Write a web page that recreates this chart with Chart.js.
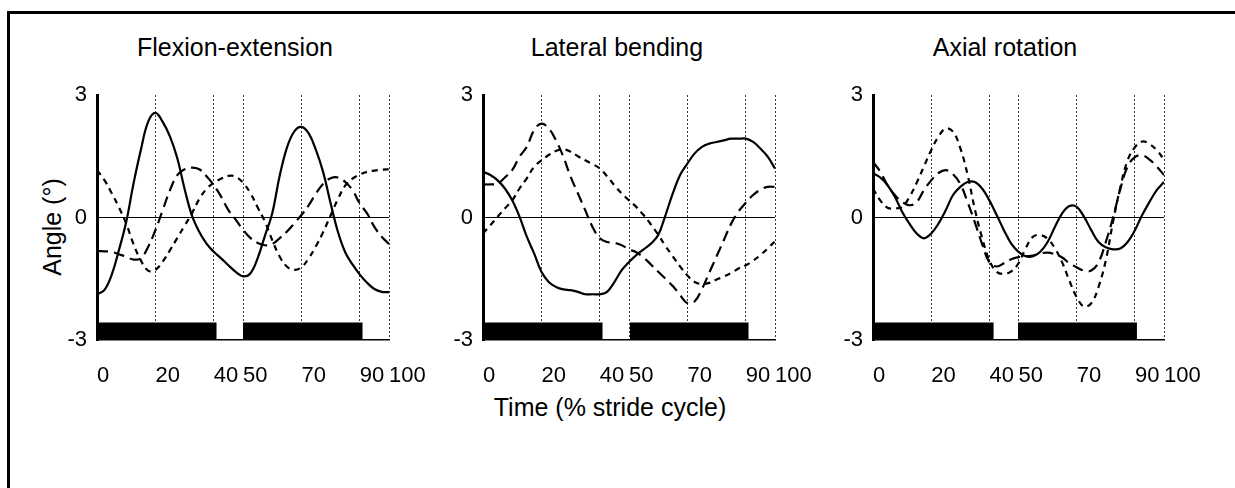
<!DOCTYPE html>
<html lang="en">

<head>
    <meta charset="UTF-8">
    <title>Spine angles over the stride cycle</title>
    <script src="https://cdn.jsdelivr.net/npm/chart.js"></script>
    <style>
        body {
            margin: 0;
            background: #fff;
            color: #000;
            font-family: "Liberation Sans", Arial, sans-serif;
        }

        .page {
            position: relative;
            width: 1235px;
            height: 488px;
            overflow: hidden;
        }

        .frame {
            position: absolute;
            left: 7px;
            top: 11px;
            width: 1260px;
            height: 500px;
            border-top: 3px solid #000;
            border-left: 3px solid #000;
        }

        .title {
            position: absolute;
            top: 35px;
            font-size: 25px;
            line-height: 25px;
            white-space: nowrap;
            transform: translateX(-50%);
        }

        .axis-title {
            position: absolute;
            font-size: 25px;
            line-height: 25px;
            white-space: nowrap;
        }

        canvas {
            position: absolute;
            top: 65px;
        }
    </style>
</head>

<body>
    <div class="page">
        <div class="frame"></div>
        <div class="title" style="left: 235px;">Flexion-extension</div>
        <div class="title" style="left: 617px;">Lateral bending</div>
        <div class="title" style="left: 1005px;">Axial rotation</div>
        <div class="axis-title" style="left: 52px; top: 227px; transform: translate(-50%, -50%) rotate(-90deg);">Angle (°)</div>
        <div class="axis-title" style="left: 610px; top: 395px; transform: translateX(-50%);">Time (% stride cycle)</div>
        <canvas id="flex" width="442" height="325" style="left: 27px;"></canvas>
        <canvas id="lat" width="442" height="325" style="left: 413px;"></canvas>
        <canvas id="axial" width="441" height="325" style="left: 803px;"></canvas>
    </div>
    <script>
        // % of stride cycle where each curve was sampled
        const pct = [0, 2.5, 5, 7.5, 10, 12.5, 15, 17.5, 20, 22.5, 25, 27.5, 30, 32.5, 35, 37.5, 40, 42.5, 45, 47.5,
            50, 52.5, 55, 57.5, 60, 62.5, 65, 67.5, 70, 72.5, 75, 77.5, 80, 82.5, 85, 87.5, 90, 92.5, 95, 97.5, 100];
        const xTicks = [0, 20, 40, 50, 70, 90, 100];
        const yTicks = [-3, 0, 3];

        // flexion-extension
        const flexSolid = [-1.88, -1.78, -1.41, -0.8, -0.11, 0.83, 1.65, 2.34, 2.56, 2.34, 1.98, 1.45, 0.7, 0.05, -0.35,
            -0.64, -0.84, -1.0, -1.17, -1.33, -1.44, -1.37, -1.0, -0.45, 0.1, 1.0, 1.7, 2.1, 2.22, 2.06,
            1.65, 1.1, 0.35, -0.35, -0.85, -1.15, -1.4, -1.6, -1.75, -1.82, -1.83];
        const flexLong = [-0.82, -0.83, -0.84, -0.9, -0.96, -1.03, -1.0, -0.72, -0.31, 0.18, 0.67, 1.04, 1.18, 1.22, 1.18,
            1.01, 0.79, 0.51, 0.18, -0.05, -0.3, -0.5, -0.62, -0.68, -0.65, -0.51, -0.35, -0.15, 0.06, 0.3,
            0.59, 0.83, 0.96, 0.98, 0.87, 0.67, 0.34, 0.1, -0.23, -0.47, -0.65];
        const flexShort = [1.16, 0.92, 0.6, 0.25, -0.15, -0.65, -1.05, -1.3, -1.28, -1.08, -0.8, -0.5, -0.2, 0.1, 0.45,
            0.7, 0.85, 0.95, 1.02, 1.0, 0.85, 0.6, 0.25, -0.1, -0.55, -0.95, -1.2, -1.28, -1.22, -1.0,
            -0.7, -0.35, 0.05, 0.45, 0.78, 0.95, 1.05, 1.12, 1.15, 1.17, 1.18];
        const flexStance = [[0, 41], [50, 91]];

        // lateral bending
        const latSolid = [1.12, 1.04, 0.91, 0.71, 0.42, 0.02, -0.47, -0.88, -1.33, -1.58, -1.7, -1.76, -1.78, -1.82, -1.88,
            -1.88, -1.88, -1.82, -1.58, -1.29, -1.09, -0.92, -0.78, -0.64, -0.43, 0.06, 0.59, 1.04, 1.32, 1.57,
            1.73, 1.81, 1.85, 1.89, 1.93, 1.93, 1.93, 1.85, 1.69, 1.49, 1.2];
        const latLong = [0.81, 0.81, 0.83, 0.98, 1.16, 1.49, 1.73, 2.14, 2.3, 2.18, 1.89, 1.49, 1.0, 0.59, 0.18,
            -0.23, -0.51, -0.6, -0.62, -0.68, -0.78, -0.85, -0.98, -1.15, -1.33, -1.5, -1.68, -1.9, -2.1, -2.05,
            -1.75, -1.35, -0.95, -0.55, -0.15, 0.15, 0.36, 0.55, 0.68, 0.75, 0.75];
        const latShort = [-0.39, -0.19, 0.02, 0.22, 0.42, 0.71, 0.96, 1.24, 1.4, 1.53, 1.63, 1.67, 1.61, 1.5, 1.4,
            1.31, 1.2, 1.01, 0.79, 0.59, 0.42, 0.26, 0.06, -0.17, -0.42, -0.7, -0.95, -1.2, -1.42, -1.58,
            -1.63, -1.6, -1.52, -1.44, -1.36, -1.25, -1.17, -1.06, -0.92, -0.76, -0.58];
        const latStance = [[0, 41], [50.3, 91]];

        // axial rotation
        const axSolid = [1.08, 0.98, 0.79, 0.51, 0.14, -0.15, -0.39, -0.51, -0.39, -0.15, 0.18, 0.55, 0.75, 0.87, 0.87,
            0.71, 0.42, 0.06, -0.31, -0.64, -0.84, -0.95, -0.95, -0.84, -0.6, -0.23, 0.1, 0.28, 0.26, 0.02,
            -0.31, -0.6, -0.73, -0.78, -0.76, -0.6, -0.31, 0.06, 0.38, 0.67, 0.87];
        const axLong = [1.36, 1.12, 0.79, 0.55, 0.38, 0.3, 0.38, 0.67, 0.91, 1.09, 1.16, 1.06, 0.82, 0.38, -0.12,
            -0.65, -1.1, -1.2, -1.12, -1.02, -0.97, -0.95, -0.93, -0.88, -0.86, -0.9, -0.98, -1.12, -1.22, -1.3,
            -1.3, -1.1, -0.6, 0.0, 0.7, 1.25, 1.48, 1.52, 1.42, 1.25, 1.04];
        const axShort = [0.71, 0.42, 0.24, 0.22, 0.26, 0.5, 0.85, 1.25, 1.65, 1.98, 2.18, 2.1, 1.7, 1.05, 0.2,
            -0.5, -1.05, -1.33, -1.38, -1.32, -1.12, -0.75, -0.47, -0.43, -0.52, -0.75, -1.1, -1.55, -1.95, -2.18,
            -2.1, -1.7, -1.05, -0.1, 0.74, 1.4, 1.72, 1.86, 1.8, 1.65, 1.42];
        const axStance = [[0, 41.5], [49.8, 90.7]];

        const stanceTop = -2.57;
        const tickFont = { family: '"Liberation Sans", Arial, sans-serif', size: 22 };

        function curve(vals, dash) {
            return {
                data: vals.map((v, i) => ({ x: pct[i], y: v })),
                borderColor: '#000',
                borderWidth: 2.2,
                borderDash: dash,
                pointRadius: 0,
                fill: false,
                tension: 0.4
            };
        }

        function stanceBar(range) {
            return {
                data: [{ x: range[0], y: stanceTop }, { x: range[1], y: stanceTop }],
                borderWidth: 0,
                borderColor: '#000',
                backgroundColor: '#000',
                pointRadius: 0,
                tension: 0,
                fill: { value: -3 }
            };
        }

        function panel(id, solid, longDash, shortDash, stance) {
            const datasets = stance.map(stanceBar);
            datasets.push(curve(shortDash, [6, 5]), curve(longDash, [11, 6]), curve(solid, []));
            new Chart(document.getElementById(id), {
                type: 'line',
                data: { datasets: datasets },
                options: {
                    responsive: false,
                    animation: false,
                    layout: { padding: { left: 0, top: 30, right: 80, bottom: 0 } },
                    plugins: { legend: { display: false }, tooltip: { enabled: false } },
                    scales: {
                        x: {
                            type: 'linear',
                            min: 0,
                            max: 100,
                            afterBuildTicks: s => { s.ticks = xTicks.map(v => ({ value: v })); },
                            afterFit: s => { s.height = 50; },
                            ticks: { align: 'start', padding: 23, font: tickFont, color: '#000', autoSkip: false, maxRotation: 0 },
                            grid: {
                                color: c => (c.tick && c.tick.value === 0) ? 'rgba(0,0,0,0)' : '#333',
                                lineWidth: 1,
                                drawTicks: false
                            },
                            border: { display: true, color: '#000', width: 1.5, dash: [2, 2] }
                        },
                        y: {
                            min: -3,
                            max: 3,
                            afterBuildTicks: s => { s.ticks = yTicks.map(v => ({ value: v })); },
                            afterFit: s => { s.width = 70; },
                            ticks: { padding: 10, font: tickFont, color: '#000' },
                            grid: {
                                color: c => (c.tick && c.tick.value === 0) ? '#000' : 'rgba(0,0,0,0)',
                                lineWidth: 1,
                                drawTicks: false
                            },
                            border: { display: true, color: '#000', width: 3 }
                        }
                    }
                }
            });
        }

        panel('flex', flexSolid, flexLong, flexShort, flexStance);
        panel('lat', latSolid, latLong, latShort, latStance);
        panel('axial', axSolid, axLong, axShort, axStance);
    </script>
</body>

</html>
